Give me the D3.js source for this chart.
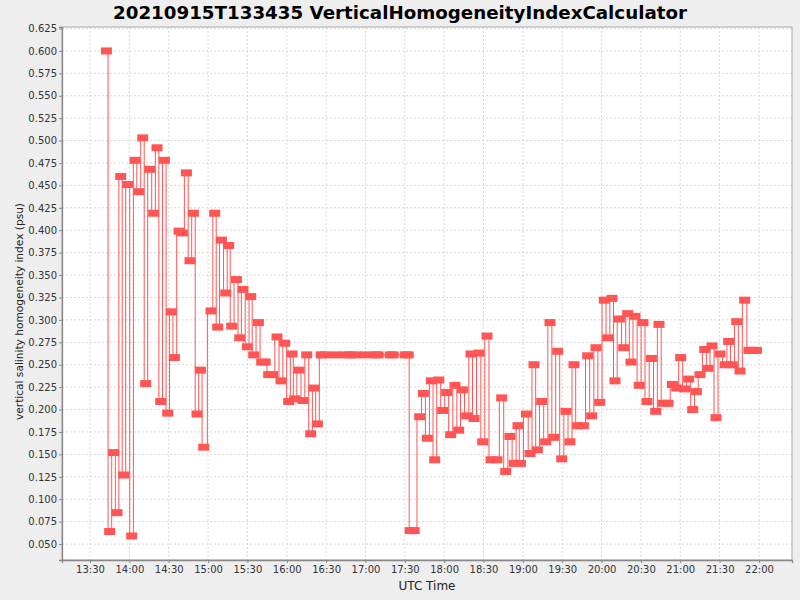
<!DOCTYPE html>
<html>
<head>
<meta charset="utf-8">
<script src="https://cdn.jsdelivr.net/npm/d3@7"></script>
<style>
  body { margin: 0; background: #eeeeee; }
  text { font-family: "DejaVu Sans", sans-serif; }
</style>
</head>
<body>
<svg id="chart" width="800" height="600"></svg>
<script>
// sample times (UTC)
var times = [
  "13:42:30","13:45:01","13:48:04","13:50:35","13:53:24","13:55:42","13:58:45","14:01:48","14:04:18","14:07:08",
  "14:10:11","14:12:28","14:15:31","14:18:34","14:21:05","14:23:54","14:26:43","14:29:14","14:32:04","14:34:21",
  "14:37:51","14:40:26","14:43:29","14:46:14","14:48:50","14:51:35","14:54:10","14:56:41","15:02:15","15:05:04",
  "15:07:22","15:10:11","15:13:28","15:15:44","15:18:02","15:21:37","15:24:08","15:26:39","15:30:00","15:32:31",
  "15:34:48","15:38:23","15:40:54","15:43:34","15:46:14","15:49:17","15:52:34","15:55:37","15:58:26","16:01:29",
  "16:04:00","16:06:04","16:09:20","16:12:23","16:15:13","16:18:16","16:20:47","16:23:22","16:26:16","16:29:19",
  "16:36:56","16:44:34","16:48:22","16:52:11","16:59:49","17:07:26","17:09:43","17:18:52","17:21:10","17:30:18",
  "17:32:35","17:34:07","17:37:10","17:41:22","17:44:11","17:47:14","17:50:17","17:52:48","17:55:51","17:58:54",
  "18:01:56","18:04:59","18:08:16","18:11:05","18:13:55","18:17:11","18:20:28","18:22:46","18:26:34","18:29:23",
  "18:32:40","18:35:43","18:40:17","18:43:53","18:46:56","18:50:12","18:53:25","18:56:18","18:58:13","19:02:43",
  "19:05:27","19:08:30","19:11:05","19:14:22","19:17:25","19:20:42","19:23:31","19:26:34","19:29:37","19:32:54",
  "19:35:57","19:39:00","19:41:35","19:46:10","19:49:26","19:52:29","19:55:46","19:58:35","20:02:10","20:04:41",
  "20:07:58","20:10:15","20:13:37","20:16:53","20:19:56","20:22:27","20:25:30","20:28:42","20:31:36","20:34:39",
  "20:38:00","20:41:17","20:43:48","20:47:09","20:50:40","20:54:01","20:57:17","21:00:20","21:03:23","21:06:26",
  "21:09:29","21:12:19","21:15:04","21:18:38","21:21:10","21:24:13","21:27:16","21:30:19","21:34:16","21:36:56",
  "21:39:37","21:43:02","21:45:34","21:49:08","21:52:25","21:55:14","21:58:04"
];

// vertical salinity homogeneity index (psu)
var salinityIndex = [
  0.600,0.064,0.152,0.085,0.460,0.127,0.451,0.059,0.478,0.443,
  0.503,0.229,0.468,0.419,0.492,0.209,0.478,0.196,0.309,0.258,
  0.399,0.397,0.464,0.366,0.419,0.195,0.244,0.158,0.310,0.419,
  0.292,0.389,0.330,0.383,0.293,0.345,0.280,0.334,0.270,0.326,
  0.261,0.297,0.253,0.253,0.239,0.239,0.281,0.232,0.274,0.209,
  0.262,0.212,0.244,0.210,0.261,0.173,0.224,0.184,0.261,0.261,
  0.261,0.261,0.261,0.261,0.261,0.261,0.261,0.261,0.261,0.261,
  0.261,0.065,0.065,0.192,0.218,0.168,0.232,0.144,0.233,0.199,
  0.219,0.172,0.227,0.177,0.222,0.193,0.262,0.190,0.263,0.164,
  0.282,0.144,0.144,0.213,0.131,0.170,0.140,0.182,0.140,0.195,
  0.151,0.250,0.155,0.209,0.164,0.297,0.169,0.265,0.145,0.198,
  0.164,0.250,0.182,0.182,0.260,0.193,0.269,0.208,0.322,0.280,
  0.324,0.232,0.301,0.269,0.307,0.253,0.304,0.227,0.297,0.209,
  0.257,0.198,0.295,0.207,0.207,0.228,0.224,0.258,0.223,0.234,
  0.200,0.220,0.239,0.267,0.246,0.271,0.191,0.262,0.250,0.276,
  0.250,0.298,0.243,0.322,0.266,0.266,0.266
];

var xTickLabels = ["13:30","14:00","14:30","15:00","15:30","16:00","16:30","17:00","17:30",
                   "18:00","18:30","19:00","19:30","20:00","20:30","21:00","21:30","22:00"];
var yTickValues = [0.050,0.075,0.100,0.125,0.150,0.175,0.200,0.225,0.250,0.275,0.300,
                   0.325,0.350,0.375,0.400,0.425,0.450,0.475,0.500,0.525,0.550,0.575,0.600,0.625];

var titleText = "20210915T133435 VerticalHomogeneityIndexCalculator";
var xLabel = "UTC Time";
var yLabel = "vertical salinity homogeneity index (psu)";

var parseTime = d3.timeParse("%H:%M:%S");
var parseTick = d3.timeParse("%H:%M");

var data = times.map(function(t, i) {
  return { time: parseTime(t), value: salinityIndex[i] };
});

var svg = d3.select("#chart");
// plot box (note: "top" is a reserved window global, so use other names)
var plotLeft = 62, plotRight = 792, plotTop = 27, plotBottom = 560;

svg.append("rect").attr("width", 800).attr("height", 600).attr("fill", "#eeeeee");
svg.append("rect").attr("x", plotLeft).attr("y", plotTop)
  .attr("width", plotRight - plotLeft).attr("height", plotBottom - plotTop).attr("fill", "#ffffff");

var x = d3.scaleTime()
  .domain([parseTime("13:08:39"), parseTime("22:25:12")])
  .range([plotLeft, plotRight]);
var y = d3.scaleLinear()
  .domain([0.0322, 0.6267])
  .range([plotBottom, plotTop]);

var xTicks = xTickLabels.map(parseTick);

// dashed grid
svg.append("g").selectAll("line").data(yTickValues).enter().append("line")
  .attr("x1", plotLeft).attr("x2", plotRight)
  .attr("y1", function(d) { return y(d); }).attr("y2", function(d) { return y(d); })
  .attr("stroke", "#d8d8d8").attr("stroke-width", 1).attr("stroke-dasharray", "2,2");
svg.append("g").selectAll("line").data(xTicks).enter().append("line")
  .attr("y1", plotTop).attr("y2", plotBottom)
  .attr("x1", function(d) { return x(d); }).attr("x2", function(d) { return x(d); })
  .attr("stroke", "#d8d8d8").attr("stroke-width", 1).attr("stroke-dasharray", "2,2");

// plot outline
svg.append("rect").attr("x", plotLeft).attr("y", plotTop)
  .attr("width", plotRight - plotLeft).attr("height", plotBottom - plotTop)
  .attr("fill", "none").attr("stroke", "#a8a8a8").attr("stroke-width", 1);

// series drawn as steps (vertical jump half way between samples) + markers
var line = d3.line()
  .curve(d3.curveStep)
  .x(function(d) { return x(d.time); })
  .y(function(d) { return y(d.value); });

svg.append("path").datum(data)
  .attr("d", line)
  .attr("fill", "none")
  .attr("stroke", "#ff5555")
  .attr("stroke-width", 1);

svg.append("g").selectAll("rect").data(data).enter().append("rect")
  .attr("x", function(d) { return x(d.time) - 5.5; })
  .attr("y", function(d) { return y(d.value) - 3.5; })
  .attr("width", 11).attr("height", 7)
  .attr("fill", "#ff5555");

// axes
var yAxis = d3.axisLeft(y).tickValues(yTickValues).tickFormat(d3.format(".3f"))
  .tickSize(3).tickPadding(2);
var xAxis = d3.axisBottom(x).tickValues(xTicks).tickFormat(d3.timeFormat("%H:%M"))
  .tickSize(3).tickPadding(3);

var gy = svg.append("g").attr("transform", "translate(" + plotLeft + ",0)").call(yAxis);
var gx = svg.append("g").attr("transform", "translate(0," + plotBottom + ")").call(xAxis);

[gx, gy].forEach(function(g) {
  g.select(".domain").attr("stroke", "#888888").attr("stroke-width", 1.3);
  g.selectAll(".tick line").attr("stroke", "#888888");
  g.selectAll(".tick text").attr("fill", "#333333")
    .style("font-family", "'DejaVu Sans', sans-serif").style("font-size", "10px");
});

// titles
svg.append("text").attr("x", 400).attr("y", 18.5)
  .attr("text-anchor", "middle")
  .style("font-size", "18px").style("font-weight", "bold")
  .attr("fill", "#000000")
  .attr("textLength", 574).attr("lengthAdjust", "spacingAndGlyphs")
  .text(titleText);

svg.append("text").attr("x", 427).attr("y", 590)
  .attr("text-anchor", "middle")
  .style("font-size", "12px")
  .attr("fill", "#222222")
  .text(xLabel);

svg.append("text")
  .attr("transform", "translate(23,311.5) rotate(-90)")
  .attr("text-anchor", "middle")
  .style("font-size", "11px")
  .attr("textLength", 217).attr("lengthAdjust", "spacingAndGlyphs")
  .attr("fill", "#222222")
  .text(yLabel);
</script>
</body>
</html>
